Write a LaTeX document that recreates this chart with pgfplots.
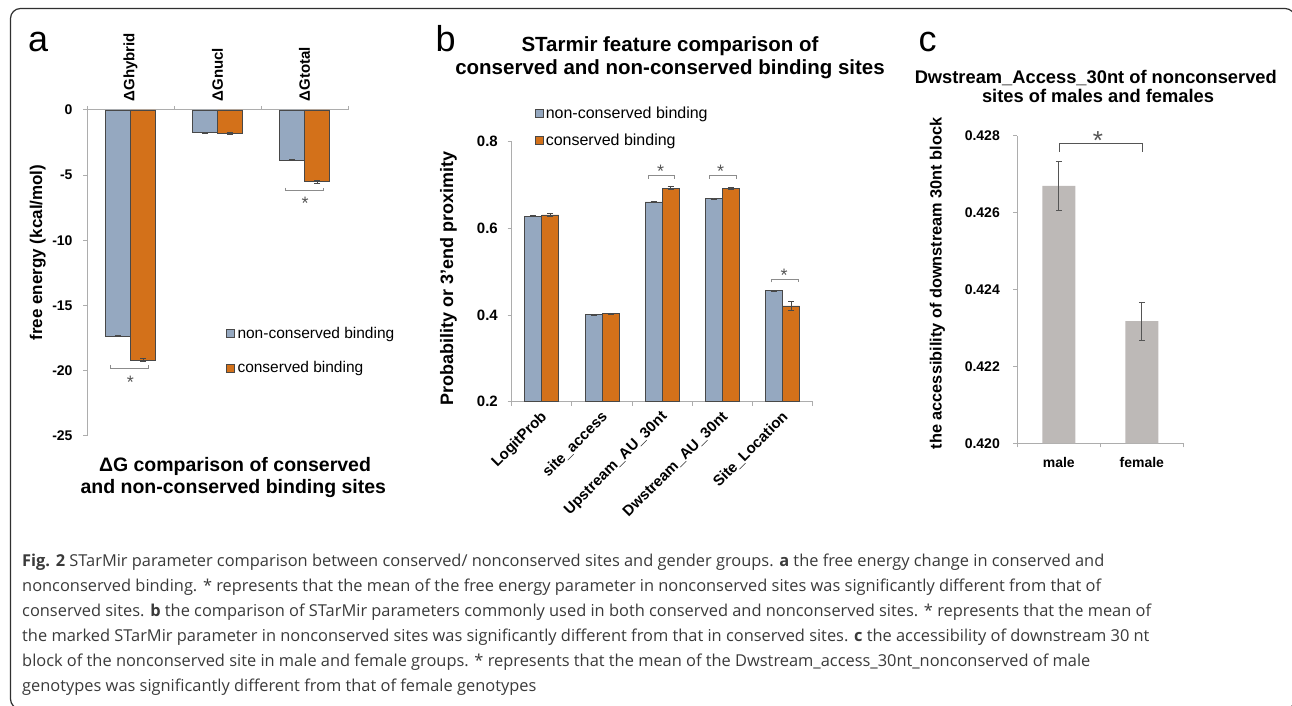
\documentclass[border=0pt]{standalone}
\usepackage{fontspec}
\setmainfont{Liberation Sans}
\newfontfamily\capfont{Open Sans}
\usepackage{pgfplots}
\pgfplotsset{compat=1.18}

\definecolor{ncblue}{HTML}{95A8C0}
\definecolor{corange}{HTML}{D3711A}
\definecolor{sexgray}{HTML}{BDB9B7}
\definecolor{barline}{HTML}{484848}
\definecolor{axisgray}{HTML}{ADADAD}
\definecolor{sigline}{HTML}{8C8C8C}
\definecolor{sigdark}{HTML}{555555}
\definecolor{capgray}{HTML}{3A3A3A}
\definecolor{framegray}{HTML}{303030}

\newcommand\fs[1]{\fontsize{#1}{#1}\selectfont}

\pgfplotsset{
  panel/.style={
    scale only axis,
    clip mode=individual,
    axis line style={axisgray, line width=1pt},
    tick align=outside,
    major tick length=4pt,
    minor tick length=4pt,
    tick style={axisgray, line width=1pt},
    major x tick style={draw=none},
    tick label style={font=\bfseries\fs{14}, text=black},
    yticklabel style={anchor=east, inner sep=0pt},
    legend cell align=left,
  },
  sq legend/.style={legend image code/.code={
    \draw[##1, draw=barline, line width=0.6pt] (0pt,-4pt) rectangle (8pt,4pt);}},
  errs/.style={
    error bars/y dir=both, error bars/y explicit,
    error bars/error bar style={draw=#1, line width=0.7pt},
    error bars/error mark options={draw=#1, line width=0.7pt, rotate=90, mark size=3pt}},
  errs/.default=barline,
}

\begin{document}
\begin{tikzpicture}[x=1pt,y=1pt]
\path[use as bounding box] (0,0) rectangle (1292,706);
\draw[framegray, line width=1.2pt, rounded corners=10pt] (10.5,-3) rectangle (1295,697.5);

% ---------------- panel a ----------------
\node[anchor=base west, inner sep=0pt, font=\fs{36}] at (28,654.5) {a};
\begin{axis}[panel,
  at={(87pt,270pt)}, anchor=south west,
  width=261pt, height=326pt,
  xmin=-0.5, xmax=2.5, ymin=-25, ymax=0,
  axis x line*=top, axis y line*=left,
  ybar=0pt, bar width=25pt,
  xtick={0,1,2}, xticklabels={ΔGhybrid,ΔGnucl,ΔGtotal},
  minor xtick={-0.5,0.5,1.5,2.5},
  xticklabel style={yshift=4.5pt, rotate=90, anchor=west, inner sep=0pt, font=\bfseries\fs{15}},
  ytick={-25,-20,-15,-10,-5,0}, yticklabels={-25,-20,-15,-10,-5,0},
  yticklabel style={xshift=-10.3pt},
  legend style={at={(axis description cs:0.5326,0.3337)}, anchor=north west,
    draw=none, fill=none, inner sep=0pt, row sep=21.6pt, column sep=2.7pt,
    font=\fs{15.5}, nodes={inner sep=0pt}},
]
\addplot[fill=ncblue, draw=barline, line width=0.7pt, sq legend, errs]
  coordinates {(0,-17.33) +- (0,0.03) (1,-1.74) +- (0,0.02) (2,-3.83) +- (0,0.02)};
\addlegendentry{non-conserved binding}
\addplot[fill=corange, draw=barline, line width=0.7pt, sq legend, errs]
  coordinates {(0,-19.17) +- (0,0.10) (1,-1.80) +- (0,0.05) (2,-5.49) +- (0,0.12)};
\addlegendentry{conserved binding}
% significance brackets
\draw[sigline, line width=0.9pt] (axis cs:-0.228,-19.54) |- (axis cs:0.201,-19.79) -- (axis cs:0.201,-19.54);
\node[anchor=base, inner sep=0pt, yshift=-10.4pt, font=\fs{18}, text=sigdark] at (axis cs:0,-20.57) {*};
\draw[sigline, line width=0.9pt] (axis cs:1.784,-5.96) |- (axis cs:2.213,-6.19) -- (axis cs:2.213,-5.96);
\node[anchor=base, inner sep=0pt, yshift=-10.4pt, font=\fs{18}, text=sigdark] at (axis cs:2.006,-6.85) {*};
\end{axis}
\node[rotate=90, anchor=base, inner sep=0pt, font=\bfseries\fs{17}] at (42,453.5) {free energy (kcal/mol)};
\node[anchor=base, inner sep=0pt, font=\bfseries\fs{19.5}] at (235,234.3) {ΔG comparison of conserved};
\node[anchor=base, inner sep=0pt, font=\bfseries\fs{19.5}] at (233.3,212.7) {and non-conserved binding sites};

% ---------------- panel b ----------------
\node[anchor=base west, inner sep=0pt, font=\fs{36}] at (435.5,654.3) {b};
\node[anchor=base, inner sep=0pt, font=\bfseries\fs{20.5}] at (670,654) {STarmir feature comparison of};
\node[anchor=base, inner sep=0pt, font=\bfseries\fs{20.5}] at (670,631.5) {conserved and non-conserved binding sites};
\begin{axis}[panel,
  at={(511.7pt,304.3pt)}, anchor=south west,
  width=301pt, height=260pt,
  xmin=-0.5, xmax=4.5, ymin=0.2, ymax=0.8,
  axis x line*=bottom, axis y line*=left,
  ybar=0pt, bar width=17pt,
  xtick={0,1,2,3,4},
  xticklabels={LogitProb,site\_access,Upstream\_AU\_30nt,Dwstream\_AU\_30nt,Site\_Location},
  minor xtick={-0.5,0.5,1.5,2.5,3.5,4.5},
  xticklabel style={xshift=3pt, yshift=-9pt, rotate=45, anchor=east, inner sep=0pt, font=\bfseries\fs{15}},
  ytick={0.2,0.4,0.6,0.8}, yticklabels={0.2,0.4,0.6,0.8},
  yticklabel style={xshift=-9.7pt, font=\bfseries\fs{15}},
  legend style={at={(axis description cs:0.0774,1.134)}, anchor=north west,
    draw=none, fill=none, inner sep=0pt, row sep=13.6pt, column sep=2pt,
    font=\fs{16}, nodes={inner sep=0pt}},
]
\addplot[fill=ncblue, draw=barline, line width=0.7pt, sq legend, errs]
  coordinates {(0,0.628) +- (0,0.001) (1,0.401) +- (0,0.001) (2,0.661) +- (0,0.001)
               (3,0.669) +- (0,0.001) (4,0.456) +- (0,0.001)};
\addlegendentry{non-conserved binding}
\addplot[fill=corange, draw=barline, line width=0.7pt, sq legend, errs]
  coordinates {(0,0.631) +- (0,0.003) (1,0.403) +- (0,0.002) (2,0.693) +- (0,0.004)
               (3,0.692) +- (0,0.002) (4,0.421) +- (0,0.011)};
\addlegendentry{conserved binding}
\draw[sigline, line width=0.9pt] (axis cs:1.767,0.7146) |- (axis cs:2.205,0.7215) -- (axis cs:2.205,0.7146);
\node[anchor=base, inner sep=0pt, yshift=-10.4pt, font=\fs{18}, text=sigdark] at (axis cs:1.972,0.7423) {*};
\draw[sigline, line width=0.9pt] (axis cs:2.783,0.7146) |- (axis cs:3.227,0.7215) -- (axis cs:3.227,0.7146);
\node[anchor=base, inner sep=0pt, yshift=-10.4pt, font=\fs{18}, text=sigdark] at (axis cs:2.972,0.7423) {*};
\draw[sigline, line width=0.9pt] (axis cs:3.822,0.4755) |- (axis cs:4.267,0.4824) -- (axis cs:4.267,0.4755);
\node[anchor=base, inner sep=0pt, yshift=-10.4pt, font=\fs{18}, text=sigdark] at (axis cs:4.027,0.5023) {*};
\end{axis}
\node[rotate=90, anchor=base, inner sep=0pt, font=\bfseries\fs{18}] at (453,427.7) {Probability or 3'end proximity};

% ---------------- panel c ----------------
\node[anchor=base west, inner sep=0pt, font=\fs{36}] at (918.5,654.3) {c};
\node[anchor=base, inner sep=0pt, font=\bfseries\fs{18.3}] at (1095.8,622.7) {Dwstream\_Access\_30nt of nonconserved};
\node[anchor=base, inner sep=0pt, font=\bfseries\fs{18.3}] at (1098,603.5) {sites of males and females};
\begin{axis}[panel,
  at={(1017.3pt,262.7pt)}, anchor=south west,
  width=166pt, height=307.3pt,
  xmin=-0.5, xmax=1.5, ymin=0.420, ymax=0.428,
  axis x line*=bottom, axis y line*=left,
  ybar=0pt, bar width=33pt,
  xtick={0,1}, xticklabels={male,female},
  minor xtick={-0.5,0.5,1.5},
  xticklabel style={yshift=-20pt, anchor=base, inner sep=0pt},
  ytick={0.420,0.422,0.424,0.426,0.428},
  yticklabels={0.420,0.422,0.424,0.426,0.428},
  yticklabel style={xshift=-13.3pt},
]
\addplot[fill=sexgray, draw=none, errs=sigdark]
  coordinates {(0,0.42670) +- (0,0.00064) (1,0.42318) +- (0,0.00050)};
\draw[sigdark, line width=1pt] (axis cs:0.014,0.427591) |- (axis cs:1.011,0.427792) -- (axis cs:1.011,0.427591);
\node[anchor=base, inner sep=0pt, yshift=-15pt, font=\fs{26}, text=sigdark] at (axis cs:0.472,0.428026) {*};
\end{axis}
\node[rotate=90, anchor=base, inner sep=0pt, font=\bfseries\fs{16.3}] at (941.7,422.5) {the accessibility of downstream 30nt block};

% ---------------- caption ----------------
\begin{scope}[every node/.style={anchor=base west, inner sep=0pt, font=\capfont\fs{16.4}, text=capgray}]
\node at (22,139) {\textbf{Fig. 2} STarMir parameter comparison between conserved/ nonconserved sites and gender groups. \textbf{a} the free energy change in conserved and};
\node at (22,114) {nonconserved binding. * represents that the mean of the free energy parameter in nonconserved sites was significantly different from that of};
\node at (22,89) {conserved sites. \textbf{b} the comparison of STarMir parameters commonly used in both conserved and nonconserved sites. * represents that the mean of};
\node at (22,64) {the marked STarMir parameter in nonconserved sites was significantly different from that in conserved sites. \textbf{c} the accessibility of downstream 30 nt};
\node at (22,39) {block of the nonconserved site in male and female groups. * represents that the mean of the Dwstream\_access\_30nt\_nonconserved of male};
\node at (22,14) {genotypes was significantly different from that of female genotypes};
\end{scope}
\end{tikzpicture}
\end{document}
